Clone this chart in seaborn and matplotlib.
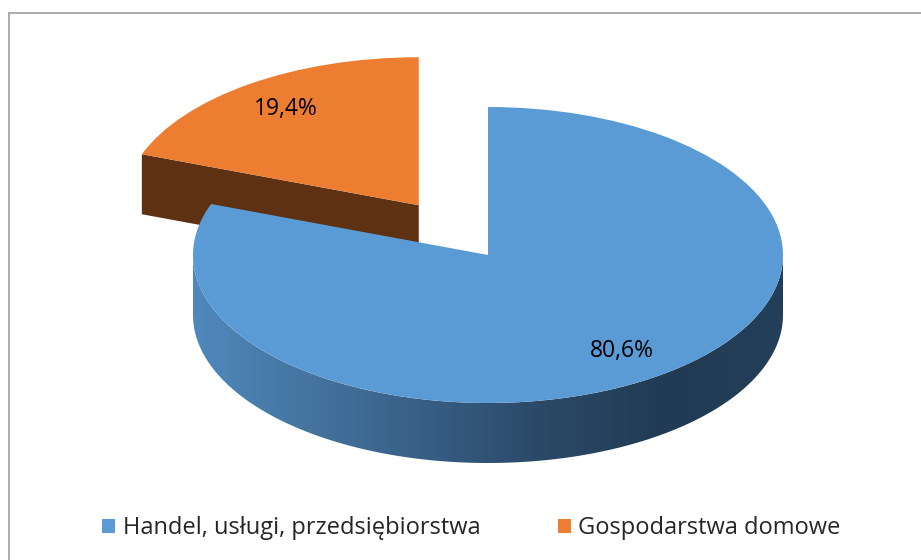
import numpy as np
import matplotlib
matplotlib.use("Agg")
import matplotlib.pyplot as plt
import seaborn as sns
from matplotlib.transforms import Affine2D
from matplotlib.patches import Polygon
from matplotlib.colors import LinearSegmentedColormap
from matplotlib.lines import Line2D

# ---- data ----
categories = ["Handel, usługi, przedsiębiorstwa", "Gospodarstwa domowe"]
values = [80.6, 19.4]
explode = [0.0, 0.41]
top_colors = ["#5b9bd5", "#ed7d31"]
face_colors = ["#3d6690", "#5e3113"]
wall_gradient = ["#5088bd", "#44749f", "#375d84", "#2a4866", "#223b54", "#243f5a"]

sns.set_theme(style="white")
plt.rcParams["font.family"] = ["Open Sans", "DejaVu Sans"]

W, H = 921, 560
fig = plt.figure(figsize=(W / 100, H / 100), dpi=100)
ax = fig.add_axes([0, 0, 1, 1])

# ellipse geometry (pixel, y up)
cx, cy = 488, H - 255
rx, ry = 295, 148
depth = 60

def fmt(p):
    return f"{p:.1f}%".replace(".", ",")

wedges, _, autotexts = ax.pie(values, startangle=90, counterclock=False,
                              explode=explode, colors=top_colors,
                              autopct=fmt, pctdistance=0.79,
                              wedgeprops=dict(linewidth=0),
                              textprops=dict(fontsize=16.5, color="black"))

T = Affine2D().scale(rx, ry).translate(cx, cy) + ax.transData

def pt(w, ang, dz=0.0):
    ex, ey = w.center
    a = np.deg2rad(ang)
    return (cx + rx * (ex + w.r * np.cos(a)), cy + ry * (ey + w.r * np.sin(a)) - dz)

blue, orange = wedges

# orange cut face on its lower-left edge (the angle farthest from 90 deg)
ang = max(orange.theta1, orange.theta2)
c_top = (cx + rx * orange.center[0], cy + ry * orange.center[1])
c_bot = (c_top[0], c_top[1] - depth)
p_top = pt(orange, ang)
p_bot = pt(orange, ang, depth)
ax.add_patch(Polygon([c_top, p_top, p_bot, c_bot], closed=True,
                     facecolor=face_colors[1], edgecolor="none", zorder=1))
orange.set_transform(T)
orange.set_zorder(2)

# blue outer wall (front half, 180..360 deg)
angs = np.linspace(180, 360, 200)
top_arc = [pt(blue, a) for a in angs]
bot_arc = [pt(blue, a, depth) for a in angs[::-1]]
wall = Polygon(top_arc + bot_arc, closed=True, facecolor="none",
               edgecolor="none", zorder=3)
ax.add_patch(wall)
cmap = LinearSegmentedColormap.from_list("wall", wall_gradient)
grad = np.linspace(0, 1, 256).reshape(1, -1)
x0, x1 = cx - rx, cx + rx
im = ax.imshow(grad, extent=[x0, x1, cy - ry - depth, cy], cmap=cmap,
               aspect="auto", zorder=3, interpolation="bilinear")
im.set_clip_path(wall)
blue.set_transform(T)
blue.set_zorder(4)

for t in autotexts:
    t.set_transform(T)
    t.set_zorder(6)

# chart border (top and left)
ax.add_line(Line2D([8.5, W], [H - 12.5, H - 12.5], color="#a6a6a6", lw=1.3, zorder=7))
ax.add_line(Line2D([8.5, 8.5], [0, H - 12.5], color="#a6a6a6", lw=1.3, zorder=7))

ax.set_xlim(0, W)
ax.set_ylim(0, H)
ax.set_aspect("auto")
ax.axis("off")

fig.legend(wedges, categories, ncol=2, loc="center",
           bbox_to_anchor=(471.5 / W, 1 - 528 / H), frameon=False,
           fontsize=17, handlelength=0.55, handleheight=0.55,
           handletextpad=0.3, columnspacing=3.3)

fig.savefig("out.png", dpi=100)
